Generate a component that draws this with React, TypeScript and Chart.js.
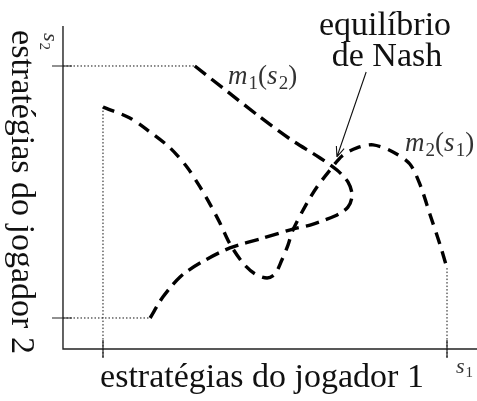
import { useEffect, useRef } from "react";
import { Chart, registerables } from "chart.js";

Chart.register(...registerables);

// Each player's strategy range is normalised to [0, 1].
const s1Ticks = [0, 1];
const s2Ticks = [0, 1];

// Reaction curve of player 1, m1(s2): the best s1 for each s2.
const m1S1 = [0.267, 0.363, 0.456, 0.544, 0.631, 0.68, 0.712, 0.724, 0.712, 0.674, 0.602, 0.552, 0.465, 0.369, 0.282, 0.224, 0.174, 0.137];
const m1S2 = [1.0, 0.897, 0.798, 0.71, 0.635, 0.587, 0.54, 0.488, 0.44, 0.405, 0.369, 0.353, 0.317, 0.278, 0.218, 0.163, 0.083, 0.0];

// Reaction curve of player 2, m2(s1): the best s2 for each s1.
const m2S1 = [0.0, 0.078, 0.137, 0.195, 0.244, 0.282, 0.311, 0.34, 0.369, 0.407, 0.442, 0.477, 0.5, 0.52, 0.538, 0.552, 0.593, 0.622, 0.66, 0.695, 0.738, 0.785, 0.843, 0.892, 0.922, 0.951, 0.98, 1.0];
const m2S2 = [0.837, 0.794, 0.738, 0.675, 0.599, 0.52, 0.452, 0.377, 0.294, 0.218, 0.175, 0.159, 0.175, 0.23, 0.29, 0.349, 0.456, 0.52, 0.587, 0.643, 0.675, 0.687, 0.659, 0.611, 0.528, 0.409, 0.29, 0.198];

// Nash equilibrium marked by the annotation arrow, and where the arrow starts.
const nashPoint = { s1: 0.68, s2: 0.639 };
const arrowTail = { s1: 0.765, s2: 0.976 };

const xTitle = "estratégias do jogador 1";
const yTitle = "estratégias do jogador 2";
const nashLabel = ["equilíbrio", "de Nash"];

// Visible window of the strategy plane and where the axes cross.
const X_MIN = -0.2994;
const X_MAX = 1.0872;
const Y_MIN = -0.3294;
const Y_MAX = 1.2619;
const AXIS_S1 = -0.1163;
const AXIS_S2 = -0.123;
const AXIS_TOP_S2 = 1.159;
const TICK_LEN = 9;

const SERIF = '"Liberation Serif", "Times New Roman", serif';

type Seg = { t: string; italic?: boolean; sub?: boolean };

function drawMath(ctx: CanvasRenderingContext2D, segs: Seg[], x: number, y: number, size: number) {
  let cx = x;
  for (const s of segs) {
    const fs = s.sub ? Math.round(size * 0.7) : size;
    ctx.font = `${s.italic ? "italic " : ""}${fs}px ${SERIF}`;
    const dy = s.sub ? size * 0.2 : 0;
    ctx.fillText(s.t, cx, y + dy);
    cx += ctx.measureText(s.t).width + (s.italic ? size * 0.04 : 0);
  }
}

const pts = (xs: number[], ys: number[]) => xs.map((x, i) => ({ x, y: ys[i] }));

const decorations = {
  id: "decorations",
  afterDatasetsDraw(chart: any) {
    const ctx: CanvasRenderingContext2D = chart.ctx;
    const xs = chart.scales.x;
    const ys = chart.scales.y;
    const px = (v: number) => xs.getPixelForValue(v);
    const py = (v: number) => ys.getPixelForValue(v);
    const ox = px(AXIS_S1);
    const oy = py(AXIS_S2);

    ctx.save();
    // axes
    ctx.strokeStyle = "#222";
    ctx.lineWidth = 1.4;
    ctx.beginPath();
    ctx.moveTo(ox, py(AXIS_TOP_S2));
    ctx.lineTo(ox, oy);
    ctx.lineTo(chart.chartArea.right, oy);
    ctx.stroke();

    // ticks, crossing the axes
    ctx.lineWidth = 1.2;
    ctx.beginPath();
    for (const t of s1Ticks) {
      ctx.moveTo(px(t), oy - TICK_LEN);
      ctx.lineTo(px(t), oy + TICK_LEN);
    }
    for (const t of s2Ticks) {
      ctx.moveTo(ox - TICK_LEN - 2, py(t));
      ctx.lineTo(ox + TICK_LEN, py(t));
    }
    ctx.stroke();

    // arrow pointing at the equilibrium
    const ax = px(arrowTail.s1), ay = py(arrowTail.s2);
    const bx = px(nashPoint.s1), by = py(nashPoint.s2);
    ctx.strokeStyle = "#111";
    ctx.lineWidth = 1.1;
    ctx.beginPath();
    ctx.moveTo(ax, ay);
    ctx.lineTo(bx, by);
    const ang = Math.atan2(by - ay, bx - ax);
    const hl = 11;
    ctx.moveTo(bx, by);
    ctx.lineTo(bx - hl * Math.cos(ang - 0.38), by - hl * Math.sin(ang - 0.38));
    ctx.moveTo(bx, by);
    ctx.lineTo(bx - hl * Math.cos(ang + 0.38), by - hl * Math.sin(ang + 0.38));
    ctx.stroke();

    // annotation text
    ctx.fillStyle = "#111";
    ctx.textAlign = "center";
    ctx.textBaseline = "alphabetic";
    ctx.font = `34px ${SERIF}`;
    ctx.fillText(nashLabel[0], 385, 35);
    ctx.fillText(nashLabel[1], 387, 66);

    // axis titles
    ctx.fillText(xTitle, 262, 387);
    ctx.save();
    ctx.translate(12, 192);
    ctx.rotate(Math.PI / 2);
    ctx.fillText(yTitle, 0, 0);
    ctx.restore();

    // curve labels and axis symbols
    ctx.textAlign = "left";
    ctx.fillStyle = "#333";
    drawMath(ctx, [{ t: "m", italic: true }, { t: "1", sub: true }, { t: "(" }, { t: "s", italic: true }, { t: "2", sub: true }, { t: ")" }], 228, 84, 27);
    drawMath(ctx, [{ t: "m", italic: true }, { t: "2", sub: true }, { t: "(" }, { t: "s", italic: true }, { t: "1", sub: true }, { t: ")" }], 405, 151, 27);
    drawMath(ctx, [{ t: "s", italic: true }, { t: "1", sub: true }], 456, 373, 22);
    ctx.save();
    ctx.translate(44, 33);
    ctx.rotate(Math.PI / 2);
    drawMath(ctx, [{ t: "s", italic: true }, { t: "2", sub: true }], 0, 0, 22);
    ctx.restore();

    ctx.restore();
  },
};

export default function App() {
  const ref = useRef<HTMLCanvasElement | null>(null);

  useEffect(() => {
    if (!ref.current) return;
    const curve = (data: any, dash: number[]) => ({
      data,
      showLine: true,
      borderColor: "#000",
      borderWidth: 3.4,
      borderDash: dash,
      tension: 0.3,
      pointRadius: 0,
      fill: false,
    });
    const guide = (data: any) => ({
      data,
      showLine: true,
      borderColor: "#111",
      borderWidth: 1,
      borderDash: [1.5, 2],
      tension: 0,
      pointRadius: 0,
      fill: false,
    });
    const lastM1 = m1S1.length - 1;
    const lastM2 = m2S1.length - 1;
    // the vertical guides run down to the lower end of the s1 ticks
    const below = AXIS_S2 - TICK_LEN * (Y_MAX - Y_MIN) / 401;
    const chart = new Chart(ref.current, {
      type: "scatter",
      data: {
        datasets: [
          curve(pts(m1S1, m1S2), [14, 7]),
          curve(pts(m2S1, m2S2), [12, 8]),
          guide([{ x: AXIS_S1, y: m1S2[0] }, { x: m1S1[0], y: m1S2[0] }]),
          guide([{ x: AXIS_S1, y: m1S2[lastM1] }, { x: m1S1[lastM1], y: m1S2[lastM1] }]),
          guide([{ x: m2S1[0], y: m2S2[0] }, { x: m2S1[0], y: below }]),
          guide([{ x: m2S1[lastM2], y: m2S2[lastM2] }, { x: m2S1[lastM2], y: below }]),
        ],
      },
      options: {
        responsive: false,
        animation: false,
        devicePixelRatio: 1,
        layout: { padding: 0 },
        plugins: { legend: { display: false }, tooltip: { enabled: false } },
        scales: {
          x: { type: "linear", min: X_MIN, max: X_MAX, display: false },
          y: { type: "linear", min: Y_MIN, max: Y_MAX, display: false },
        },
      },
      plugins: [decorations],
    });
    return () => chart.destroy();
  }, []);

  return (
    <div style={{ position: "fixed", left: 0, top: 0, width: 477, height: 401, background: "#fff" }}>
      <canvas ref={ref} width={477} height={401} />
    </div>
  );
}
